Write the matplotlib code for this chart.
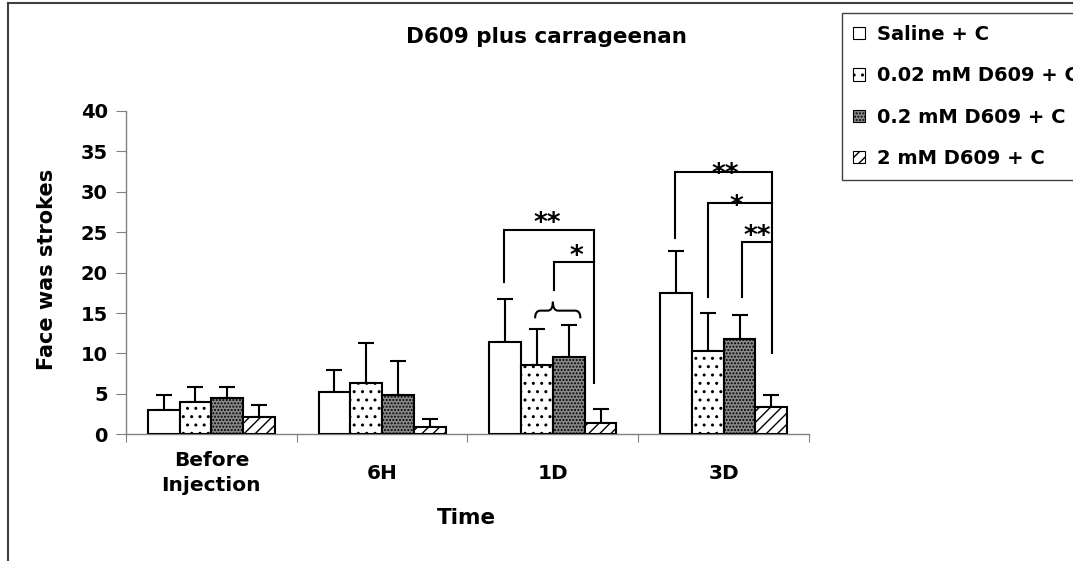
import numpy as np
import matplotlib
matplotlib.use('Agg')
import matplotlib.pyplot as plt
from matplotlib.lines import Line2D
from matplotlib.patches import Patch, PathPatch
from matplotlib.path import Path

plt.rcParams['font.family'] = ['DejaVu Sans']
plt.rcParams['font.weight'] = 'bold'
plt.rcParams['hatch.linewidth'] = 1.0

# time points and treatment groups
categories = ['Before\nInjection', '6H', '1D', '3D']
groups = ['Saline + C', '0.02 mM D609 + C', '0.2 mM D609 + C', '2 mM D609 + C']

# mean face-wash strokes per group
saline = [3.0, 5.2, 11.4, 17.5]
d609_002 = [4.0, 6.4, 8.6, 10.3]
d609_02 = [4.5, 4.9, 9.6, 11.8]
d609_2 = [2.2, 0.9, 1.4, 3.4]

# upper error (SD)
saline_err = [1.9, 2.7, 5.4, 5.2]
d609_002_err = [1.9, 4.9, 4.4, 4.7]
d609_02_err = [1.4, 4.2, 3.9, 3.0]
d609_2_err = [1.4, 1.0, 1.7, 1.5]

means = [saline, d609_002, d609_02, d609_2]
errs = [saline_err, d609_002_err, d609_02_err, d609_2_err]

# bar fill styles
faces = ['white', 'white', '#8a8a8a', 'white']
hatches = [None, '..', '.....', '///']

# significance brackets: (category, left x offset, left leg bottom, top y, label)
brackets = [
    (2, -0.285, 18.9, 25.3, '**'),
    (2, 0.007, 17.9, 21.3, '*'),
    (3, -0.287, 24.3, 32.4, '**'),
    (3, -0.092, 17.0, 28.6, '*'),
    (3, 0.107, 17.0, 23.8, '**'),
]
# shared right leg per category: (category, x offset, bottom y)
right_legs = [(2, 0.243, 6.2), (3, 0.285, 9.9)]
# star label positions: (x offset, y centre)
star_pos = [(-0.032, 26.8), (0.136, 22.8), (0.012, 32.9), (0.074, 29.0), (0.199, 25.3)]

W, H = 1073, 561
fig = plt.figure(figsize=(W / 100, H / 100), dpi=100)
ax = fig.add_axes([126 / W, 1 - 434.3 / H, (809 - 126) / W, (434.3 - 111) / H])

x = np.arange(len(categories))
width = 0.186
for i, (m, e) in enumerate(zip(means, errs)):
    pos = x + (i - 1.5) * width
    ax.bar(pos, m, width, color=faces[i], edgecolor='black', linewidth=1.5,
           hatch=hatches[i], zorder=3)
    ax.errorbar(pos, m, yerr=[np.zeros(len(e)), e], fmt='none', ecolor='black',
                elinewidth=1.5, capsize=5.5, capthick=1.5, zorder=2)

ax.set_xlim(-0.5, 3.5)
ax.set_ylim(0, 40)
ax.set_yticks(np.arange(0, 41, 5))
ax.set_xticks(np.arange(-0.5, 3.6, 1))
ax.set_xticklabels([])
for s in ['top', 'right']:
    ax.spines[s].set_visible(False)
for s in ['left', 'bottom']:
    ax.spines[s].set_color('#808080')
    ax.spines[s].set_linewidth(1.0)
ax.tick_params(axis='y', length=7, color='#808080', labelsize=14, pad=6)
ax.tick_params(axis='x', length=6, color='#808080')
for lab in ax.get_yticklabels():
    lab.set_fontweight('bold')

# category labels under each group
for i, c in enumerate(categories):
    ax.text(i, -0.12, c, transform=ax.get_xaxis_transform(), ha='center',
            va='center', fontsize=14.5, fontweight='bold', linespacing=1.35)

fig.text(466.7 / W, 1 - 517.5 / H, 'Time', ha='center', va='center',
         fontsize=15.5, fontweight='bold')
fig.text(46.7 / W, 1 - 269 / H, 'Face was strokes', ha='center', va='center',
         rotation=90, fontsize=15, fontweight='bold')
fig.text(546.5 / W, 1 - 37 / H, 'D609 plus carrageenan', ha='center',
         va='center', fontsize=15.5, fontweight='bold')

# significance brackets
lw = 1.5
tops = {}
for cat, xl, yb, yt, lab in brackets:
    tops[cat] = max(tops.get(cat, 0), yt)
for cat, xr, yb in right_legs:
    ax.plot([cat + xr, cat + xr], [yb, tops[cat]], color='black', lw=lw,
            clip_on=False, solid_capstyle='butt')
rx = {cat: xr for cat, xr, yb in right_legs}
for (cat, xl, yb, yt, lab), (sx, sy) in zip(brackets, star_pos):
    ax.plot([cat + xl, cat + xl, cat + rx[cat]], [yb, yt, yt], color='black',
            lw=lw, clip_on=False, solid_joinstyle='miter')
    ax.text(cat + sx, sy - 1.7, lab, ha='center', va='baseline', fontsize=19,
            fontweight='bold', zorder=5)

# curly brace over the 0.02 and 0.2 mM bars at 1D
cx = 2
xl, xm, xr = cx - 0.104, cx + 0.0, cx + 0.161
ye, yh, yt = 14.35, 15.3, 16.4
d = 0.03
verts = [(xl, ye), (xl, yh), (xl + d, yh), (xm - d, yh), (xm, yh), (xm, yt),
         (xm, yh), (xm + d, yh), (xr - d, yh), (xr, yh), (xr, ye)]
codes = [Path.MOVETO, Path.CURVE3, Path.CURVE3, Path.LINETO, Path.CURVE3,
         Path.CURVE3, Path.CURVE3, Path.CURVE3, Path.LINETO, Path.CURVE3,
         Path.CURVE3]
ax.add_patch(PathPatch(Path(verts, codes), facecolor='none', edgecolor='black',
                       lw=1.5, clip_on=False))

# legend
handles = [Patch(facecolor=faces[i], edgecolor='black', hatch=hatches[i],
                 linewidth=0.8) for i in range(4)]
leg = fig.legend(handles, groups, loc='upper left',
                 bbox_to_anchor=(841.7 / W, 1 - 13.3 / H),
                 prop={'weight': 'bold', 'size': 14}, fancybox=False,
                 edgecolor='#404040', framealpha=1, borderpad=0.6,
                 handlelength=0.6, handleheight=0.6, handletextpad=0.6,
                 labelspacing=1.15, borderaxespad=0)
leg.get_frame().set_linewidth(1.0)

# outer chart frame
fig.add_artist(Line2D([7.7 / W, 7.7 / W], [0, 1 - 3 / H], color='#404040', lw=1.5))
fig.add_artist(Line2D([7.7 / W, 1], [1 - 3 / H, 1 - 3 / H], color='#404040', lw=1.5))

fig.savefig('out.png', dpi=100)
